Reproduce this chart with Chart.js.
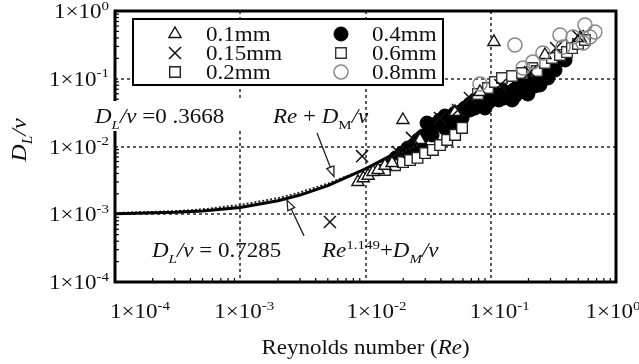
<!DOCTYPE html>
<html>
<head>
<meta charset="utf-8">
<script src="https://cdn.jsdelivr.net/npm/chart.js@4.4.1/dist/chart.umd.min.js"></script>
<style>
  html, body { margin: 0; padding: 0; background: #fff; }
  canvas { display: block; }
</style>
</head>
<body>
<canvas id="chart" width="639" height="364"></canvas>
<script>
// ---- measured dispersion data, grouped by particle size ----
const re01  = [0.0087, 0.0096, 0.0105, 0.0115, 0.0126, 0.0143, 0.0163, 0.0199, 0.0272, 0.0519, 0.0820, 0.106, 0.271, 0.516];
const dl01  = [0.0030, 0.0034, 0.0037, 0.0042, 0.0045, 0.0052, 0.0057, 0.0246, 0.0125, 0.0323, 0.0637, 0.349, 0.224, 0.400];

const re015 = [0.0052, 0.0094, 0.0182, 0.0235, 0.0393, 0.0548, 0.0682, 0.119, 0.206, 0.332, 0.497];
const dl015 = [0.00077, 0.0072, 0.0083, 0.0134, 0.0264, 0.0346, 0.0520, 0.0809, 0.126, 0.284, 0.428];

const re02  = [0.0143, 0.0172, 0.0199, 0.0227, 0.0260, 0.0299, 0.0345, 0.0394, 0.0449, 0.0519, 0.0590];
const dl02  = [0.0045, 0.0053, 0.0059, 0.0063, 0.0068, 0.0080, 0.0089, 0.0105, 0.0125, 0.0148, 0.0188];

const re04  = [0.0157, 0.0175, 0.0196, 0.0218, 0.0239, 0.0263, 0.0288, 0.0310, 0.0333, 0.0366, 0.0393, 0.0431,
               0.0473, 0.0519, 0.0568, 0.0622, 0.0682, 0.0748, 0.0806, 0.0883, 0.0968, 0.106, 0.116, 0.128,
               0.140, 0.153, 0.168, 0.184, 0.198, 0.214, 0.234, 0.257, 0.281, 0.308, 0.338, 0.371,
               0.0682, 0.0900, 0.148, 0.171, 0.119, 0.247, 0.0519, 0.0431,
               0.0188, 0.0248, 0.0272, 0.0340, 0.0431, 0.0590, 0.0748, 0.0986, 0.130, 0.156, 0.225, 0.286, 0.326, 0.392];
const dl04  = [0.0057, 0.0068, 0.0080, 0.0095, 0.0102, 0.0125, 0.0143, 0.0222, 0.0188, 0.0215, 0.0246, 0.0282,
               0.0273, 0.0312, 0.0323, 0.0370, 0.0424, 0.0486, 0.0538, 0.0503, 0.0454, 0.0520, 0.0486, 0.0520,
               0.0596, 0.0682, 0.0837, 0.0682, 0.0596, 0.0895, 0.0992, 0.1175, 0.1346, 0.1596, 0.1828, 0.2094,
               0.0346, 0.0370, 0.0486, 0.0637, 0.0730, 0.0809, 0.0230, 0.0208,
               0.0063, 0.0089, 0.0105, 0.0148, 0.0188, 0.0264, 0.0370, 0.0575, 0.0637, 0.0556, 0.0782, 0.1026, 0.1346, 0.189];

const re06  = [0.0791, 0.0951, 0.108, 0.123, 0.148, 0.178, 0.214, 0.234, 0.271, 0.308, 0.357, 0.406, 0.445, 0.497, 0.565];
const dl06  = [0.0596, 0.0730, 0.0895, 0.1026, 0.1098, 0.1216, 0.1441, 0.1301, 0.1708, 0.2024, 0.224, 0.248, 0.284, 0.326, 0.373];

const re08  = [0.0820, 0.156, 0.181, 0.217, 0.261, 0.357, 0.378, 0.454, 0.546, 0.565, 0.619, 0.679];
const dl08  = [0.0837, 0.315, 0.144, 0.177, 0.240, 0.442, 0.294, 0.413, 0.337, 0.621, 0.413, 0.490];

// ---- correlation curves ----
const fitRe     = [1e-4, 3e-4, 5e-4, 1e-3, 2e-3, 3e-3, 5e-3, 1e-2, 2e-2, 5e-2, 0.1, 0.2, 0.4];
const fitPower  = [1.02e-3, 1.07e-3, 1.12e-3, 1.26e-3, 1.58e-3, 1.92e-3, 2.65e-3, 4.67e-3, 9.14e-3, 0.0243, 0.0527, 0.116, 0.255];
const linRe     = [1e-4, 3e-4, 5e-4, 1e-3, 2e-3, 3e-3, 5e-3, 1e-2, 2e-2, 3e-2];
const fitLinear = [1.04e-3, 1.11e-3, 1.18e-3, 1.37e-3, 1.73e-3, 2.10e-3, 2.83e-3, 4.67e-3, 8.34e-3, 0.0120];

// ---- axes ----
const xDecades = [-4, -3, -2, -1, 0];
const yDecades = [0, -1, -2, -3, -4];
const seriesLabels = ['0.1mm', '0.15mm', '0.2mm', '0.4mm', '0.6mm', '0.8mm'];

const pairs = (xs, ys) => xs.map((x, i) => ({ x, y: ys[i] }));

const SERIF = '"Liberation Serif", "Times New Roman", serif';
const HS = 1.15; // wide lettering

// draws a run of mixed text: [text, flags] with flags 'i' (italic), 'sub', 'sup'
function drawRich(ctx, runs, x, y, align, size, hs = HS) {
  const small = Math.round(size * 0.64);
  let w = 0;
  const parts = runs.map(([t, st = '']) => {
    const it = st.includes('i');
    const sb = st.includes('sub');
    const sp = st.includes('sup');
    const fs = (sb || sp) ? small : size;
    const font = (it ? 'italic ' : '') + fs + 'px ' + SERIF;
    ctx.font = font;
    const p = { t, font, dy: sb ? size * 0.28 : sp ? -size * 0.42 : 0, x: w };
    w += ctx.measureText(t).width;
    return p;
  });
  ctx.save();
  ctx.translate(x, y);
  ctx.scale(hs, 1);
  const x0 = align === 'center' ? -w / 2 : align === 'right' ? -w : 0;
  ctx.textAlign = 'left';
  ctx.textBaseline = 'alphabetic';
  ctx.fillStyle = '#111';
  for (const p of parts) { ctx.font = p.font; ctx.fillText(p.t, x0 + p.x, p.dy); }
  ctx.restore();
}

function marker(ctx, ds, x, y) {
  ctx.save();
  ctx.fillStyle = ds.backgroundColor;
  ctx.strokeStyle = ds.borderColor;
  ctx.lineWidth = ds.borderWidth;
  Chart.helpers.drawPoint(ctx, { pointStyle: ds.pointStyle, radius: ds.pointRadius, rotation: 0, borderWidth: ds.borderWidth }, x, y);
  ctx.restore();
}

function arrow(ctx, x1, y1, x2, y2) {
  const a = Math.atan2(y2 - y1, x2 - x1);
  const L = 10, H = 3.8;
  const bx = x2 - L * Math.cos(a), by = y2 - L * Math.sin(a);
  ctx.save();
  ctx.strokeStyle = '#222';
  ctx.lineWidth = 1.3;
  ctx.setLineDash([]);
  ctx.beginPath(); ctx.moveTo(x1, y1); ctx.lineTo(bx, by); ctx.stroke();
  ctx.beginPath();
  ctx.moveTo(x2, y2);
  ctx.lineTo(bx + H * Math.sin(a), by - H * Math.cos(a));
  ctx.lineTo(bx - H * Math.sin(a), by + H * Math.cos(a));
  ctx.closePath();
  ctx.fillStyle = '#fff';
  ctx.fill(); ctx.stroke();
  ctx.restore();
}

const decor = {
  id: 'decor',
  beforeDraw(chart) {
    const ctx = chart.ctx;
    ctx.save();
    ctx.fillStyle = '#fff';
    ctx.fillRect(0, 0, chart.width, chart.height);
    ctx.restore();
  },
  beforeDatasetsDraw(chart) {
    const { ctx, chartArea: a, scales: { x, y } } = chart;
    ctx.save();
    ctx.strokeStyle = '#333';
    ctx.lineWidth = 1.6;
    ctx.setLineDash([3, 3]);
    xDecades.slice(1, -1).forEach(e => {
      const px = Math.round(x.getPixelForValue(Math.pow(10, e)));
      ctx.beginPath(); ctx.moveTo(px, a.top); ctx.lineTo(px, a.bottom); ctx.stroke();
    });
    yDecades.slice(1, -1).forEach(e => {
      const py = Math.round(y.getPixelForValue(Math.pow(10, e)));
      ctx.beginPath(); ctx.moveTo(a.left, py); ctx.lineTo(a.right, py); ctx.stroke();
    });
    ctx.restore();
  },
  afterDatasetsDraw(chart) {
    const { ctx, chartArea: a, scales: { x, y } } = chart;
    ctx.save();
    ctx.setLineDash([]);
    ctx.strokeStyle = '#000';

    // minor ticks, pointing inward
    ctx.lineWidth = 1.2;
    for (let d = -4; d < 0; d++) {
      for (let k = 2; k <= 9; k++) {
        const v = k * Math.pow(10, d);
        const px = x.getPixelForValue(v);
        ctx.beginPath(); ctx.moveTo(px, a.bottom); ctx.lineTo(px, a.bottom - 4); ctx.stroke();
        const py = y.getPixelForValue(v);
        ctx.beginPath(); ctx.moveTo(a.left, py); ctx.lineTo(a.left + 4, py); ctx.stroke();
      }
    }
    // frame
    ctx.lineWidth = 3;
    ctx.strokeRect(a.left, a.top, a.right - a.left, a.bottom - a.top);

    // legend box
    const lx = a.left + 18, ly = a.top + 8, lw = 310, lh = 66;
    ctx.fillStyle = '#fff';
    ctx.fillRect(lx, ly, lw, lh);
    ctx.lineWidth = 2;
    ctx.strokeRect(lx, ly, lw, lh);
    const ds = chart.data.datasets;
    seriesLabels.forEach((lab, i) => {
      const col = Math.floor(i / 3), row = i % 3;
      const mx = lx + 42 + col * 166, my = ly + 15 + row * 19;
      marker(ctx, ds[i], mx, my);
      drawRich(ctx, [[lab]], mx + 31, my + 7, 'left', 20);
    });

    // white backing behind the first formula, which sits over the axis
    ctx.fillStyle = '#fff';
    ctx.fillRect(92, 101, 156, 30);
    ctx.restore();

    // formula annotations
    drawRich(ctx, [['D', 'i'], ['L', 'i sub'], ['/\u03BD', 'i'], [' =0 .3668']], 95, 123, 'left', 20);
    drawRich(ctx, [['Re', 'i'], [' + '], ['D', 'i'], ['M', 'sub'], ['/\u03BD', 'i']], 273, 123, 'left', 20);
    drawRich(ctx, [['D', 'i'], ['L', 'i sub'], ['/\u03BD', 'i'], [' = 0.7285']], 152, 257, 'left', 20);
    drawRich(ctx, [['Re', 'i'], ['1.149', 'sup'], ['+'], ['D', 'i'], ['M', 'i sub'], ['/\u03BD', 'i']], 322, 257, 'left', 20);

    arrow(ctx, x.getPixelForValue(0.0041), y.getPixelForValue(0.0158), x.getPixelForValue(0.0056), y.getPixelForValue(0.0036));
    arrow(ctx, x.getPixelForValue(0.00323), y.getPixelForValue(0.00048), x.getPixelForValue(0.00236), y.getPixelForValue(0.00162));

    // tick labels
    const xShift = [25, 4, 11, 9, -3];
    xDecades.forEach((e, i) => {
      const px = x.getPixelForValue(Math.pow(10, e)) + xShift[i];
      drawRich(ctx, [['1\u00D710'], [String(e), 'sup']], px, a.bottom + 36, 'center', 20);
    });
    yDecades.forEach(e => {
      const py = y.getPixelForValue(Math.pow(10, e));
      drawRich(ctx, [['1\u00D710'], [String(e), 'sup']], a.left - 6, py + 7, 'right', 20);
    });

    // axis titles
    drawRich(ctx, [['Reynolds number ('], ['Re', 'i'], [')']], (a.left + a.right) / 2, 354, 'center', 20);
    ctx.save();
    ctx.translate(18, 140);
    ctx.rotate(-Math.PI / 2);
    drawRich(ctx, [['D', 'i'], ['L', 'i sub'], ['/\u03BD', 'i']], 0, 8, 'center', 22, 1.1);
    ctx.restore();
  }
};

const INK = '#111';
new Chart(document.getElementById('chart'), {
  type: 'scatter',
  data: {
    datasets: [
      { label: seriesLabels[0], data: pairs(re01, dl01), pointStyle: 'triangle', pointRadius: 7,
        borderColor: INK, backgroundColor: '#fff', borderWidth: 1.4, order: 2 },
      { label: seriesLabels[1], data: pairs(re015, dl015), pointStyle: 'crossRot', pointRadius: 8.5,
        borderColor: INK, backgroundColor: INK, borderWidth: 1.5, order: 1 },
      { label: seriesLabels[2], data: pairs(re02, dl02), pointStyle: 'rect', pointRadius: 7.5,
        borderColor: '#222', backgroundColor: '#fff', borderWidth: 1.4, order: 4 },
      { label: seriesLabels[3], data: pairs(re04, dl04), pointStyle: 'circle', pointRadius: 7,
        borderColor: '#000', backgroundColor: '#000', borderWidth: 1, order: 7 },
      { label: seriesLabels[4], data: pairs(re06, dl06), pointStyle: 'rect', pointRadius: 7.5,
        borderColor: '#333', backgroundColor: '#fff', borderWidth: 1.4, order: 3 },
      { label: seriesLabels[5], data: pairs(re08, dl08), pointStyle: 'circle', pointRadius: 7,
        borderColor: '#888', backgroundColor: 'rgba(255,255,255,0)', borderWidth: 1.5, order: 0 },
      { label: 'power fit', data: pairs(fitRe, fitPower), showLine: true, pointRadius: 0,
        borderColor: '#000', borderWidth: 3, fill: false, order: 6 },
      { label: 'linear fit', data: pairs(linRe, fitLinear), showLine: true, pointRadius: 0,
        borderColor: '#222', borderWidth: 2, borderDash: [2, 2], fill: false, order: 6 }
    ]
  },
  options: {
    responsive: false,
    animation: false,
    devicePixelRatio: 1,
    layout: { padding: { left: 115, right: 23, top: 11, bottom: 82 } },
    plugins: { legend: { display: false }, tooltip: { enabled: false } },
    scales: {
      x: { type: 'logarithmic', min: 1e-4, max: 1, display: false },
      y: { type: 'logarithmic', min: 1e-4, max: 1, display: false }
    }
  },
  plugins: [decor]
});
</script>
</body>
</html>
